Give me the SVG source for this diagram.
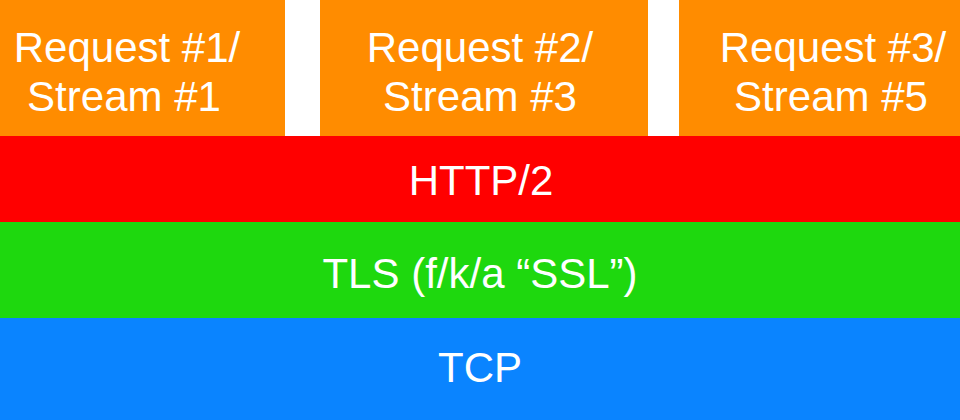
<svg xmlns="http://www.w3.org/2000/svg" width="960" height="420" viewBox="0 0 960 420">
<style>
text{font-family:"Liberation Sans",Arial,sans-serif;font-size:42px;fill:#fff;text-anchor:middle}
.req{fill:#FF8C00}
</style>
<rect width="960" height="420" fill="#fff"/>
<g id="stream1"><rect class="req" x="0" y="0" width="285" height="136"/><text x="127" y="62">Request #1/</text><text x="124" y="111">Stream #1</text></g>
<g id="stream3"><rect class="req" x="320" y="0" width="328" height="136"/><text x="480" y="62">Request #2/</text><text x="480" y="111">Stream #3</text></g>
<g id="stream5"><rect class="req" x="679" y="0" width="281" height="136"/><text x="833" y="62">Request #3/</text><text x="831" y="111">Stream #5</text></g>
<g id="http2"><rect x="0" y="136" width="960" height="86" fill="#FF0000"/><text x="481" y="195">HTTP/2</text></g>
<g id="tls"><rect x="0" y="222" width="960" height="96" fill="#1ED80E"/><text x="480" y="288">TLS (f/k/a “SSL”)</text></g>
<g id="tcp"><rect x="0" y="318" width="960" height="102" fill="#0A84FF"/><text x="480" y="382">TCP</text></g>
<g id="connectors"/>
</svg>
